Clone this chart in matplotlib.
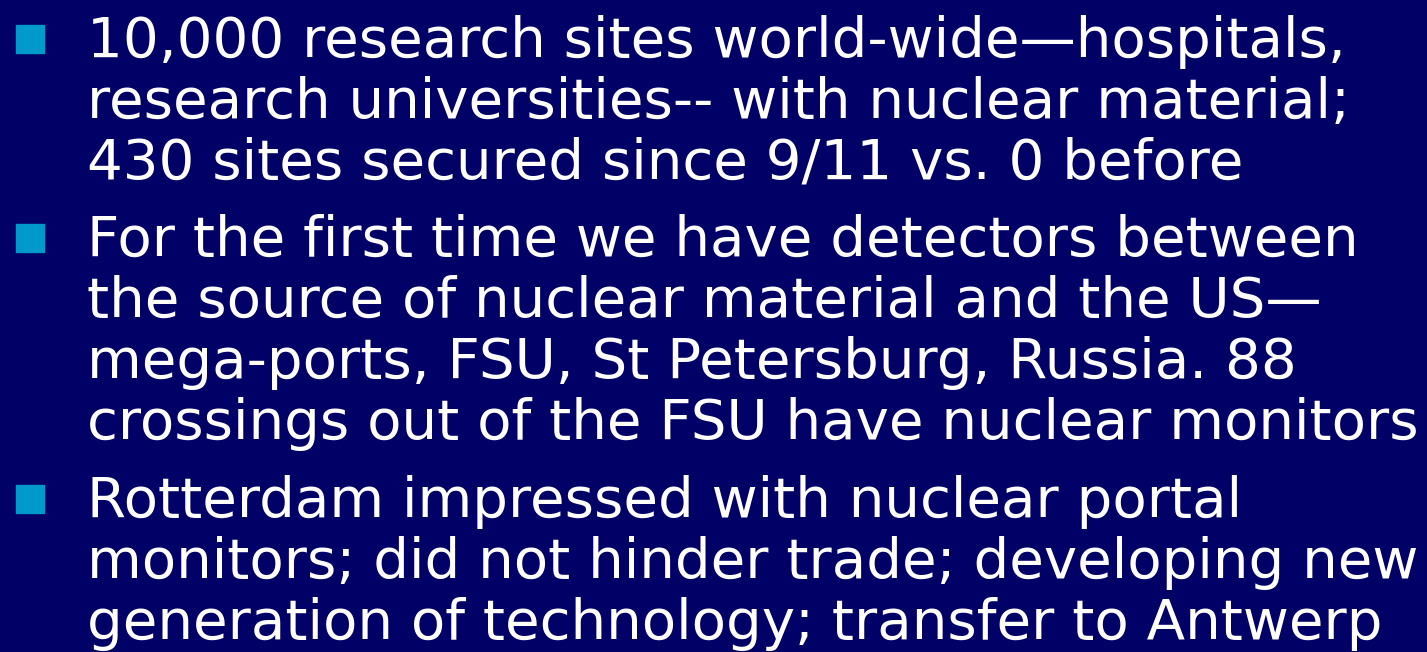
import matplotlib.pyplot as plt

# slide text, one list per bullet (lines as broken on the slide)
bullet_1 = ["10,000 research sites world-wide\u2014hospitals,",
            "research universities-- with nuclear material;",
            "430 sites secured since 9/11 vs. 0 before"]
bullet_2 = ["For the first time we have detectors between",
            "the source of nuclear material and the US\u2014",
            "mega-ports, FSU, St Petersburg, Russia. 88",
            "crossings out of the FSU have nuclear monitors"]
bullet_3 = ["Rotterdam impressed with nuclear portal",
            "monitors; did not hinder trade; developing new",
            "generation of technology; transfer to Antwerp"]
bullets = [bullet_1, bullet_2, bullet_3]

bg = '#000066'
bullet_col = '#0099CC'

fig = plt.figure(figsize=(14.27, 6.52), dpi=100, facecolor=bg)
ax = fig.add_axes([0, 0, 1, 1])
ax.set_facecolor(bg)
ax.set_xlim(0, 1427)
ax.set_ylim(652, 0)
ax.axis('off')

first_baseline = [57, 256, 517]
line_step = 61
text_x = 87
for b, lines in enumerate(bullets):
    y0 = first_baseline[b]
    # square bullet
    ax.add_patch(plt.Rectangle((16, y0 - 32), 28, 28, color=bullet_col))
    for i, line in enumerate(lines):
        ax.text(text_x, y0 + i * line_step, line, color='white',
                fontsize=40.5, family='DejaVu Sans', va='baseline', ha='left')

fig.savefig('out.png', dpi=100, facecolor=bg)
